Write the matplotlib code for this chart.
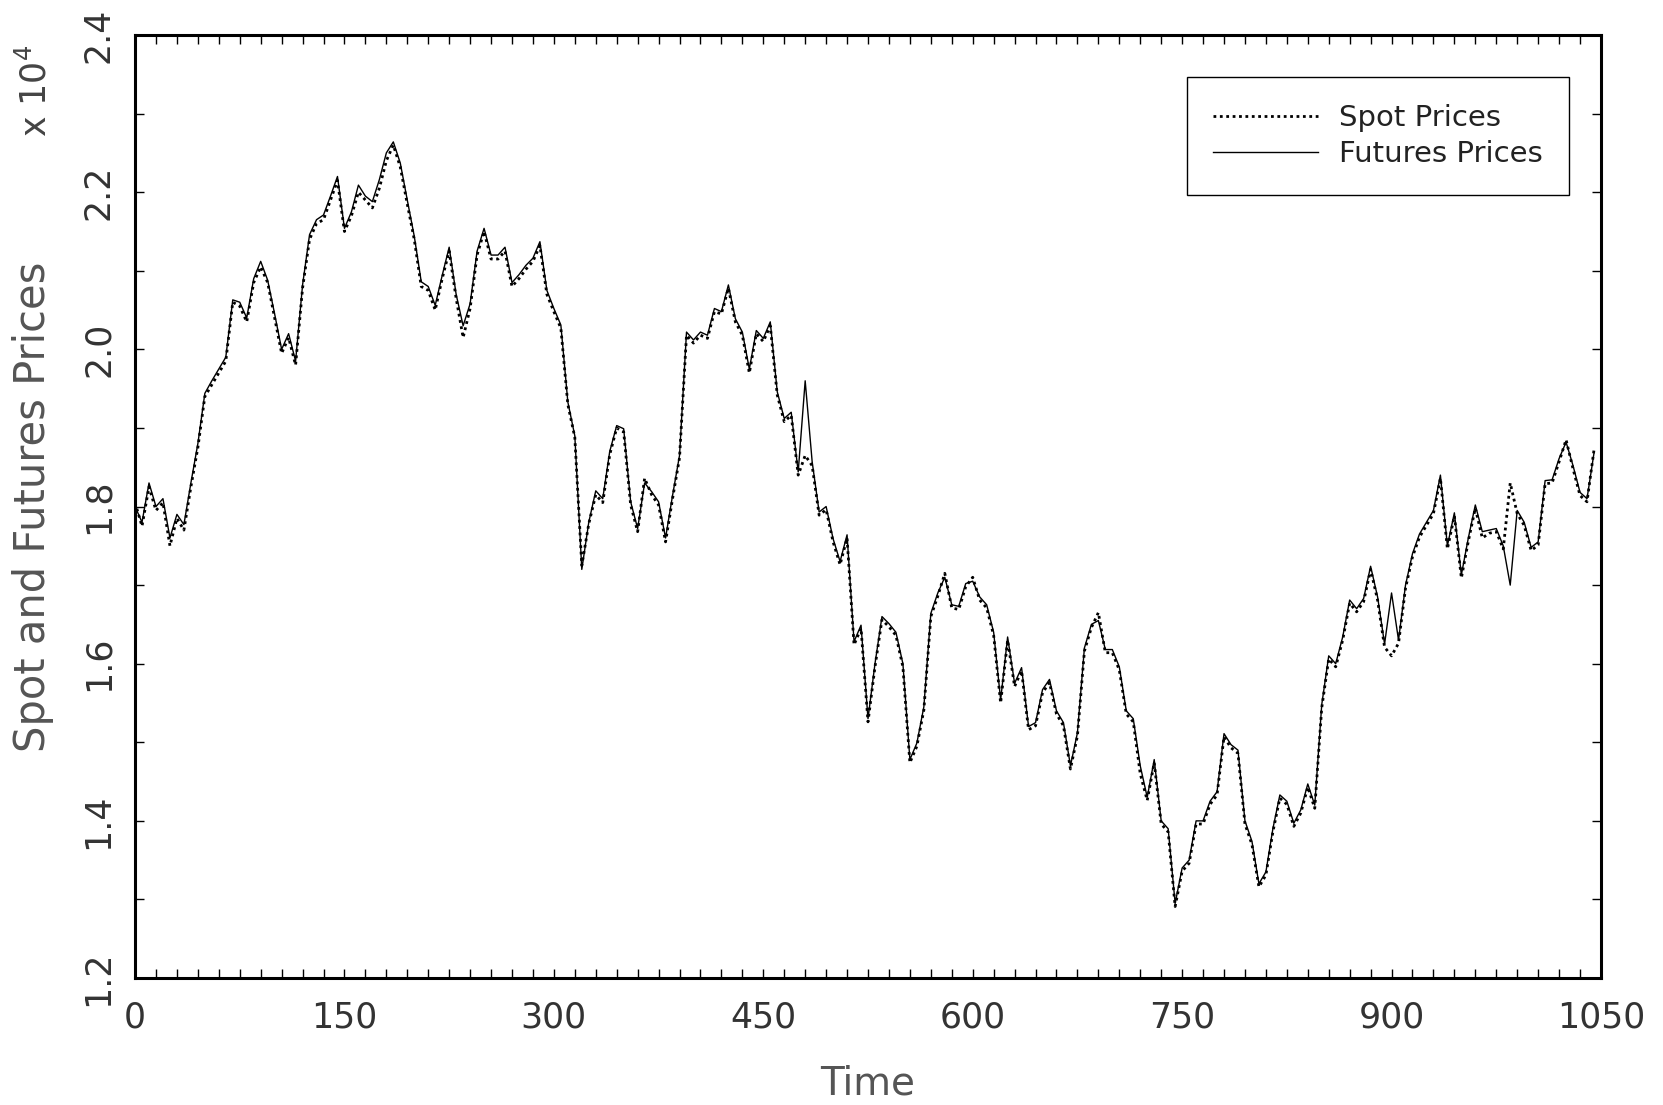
###
###    Spot vs futures prices over time
###

import matplotlib
matplotlib.use('Agg')
import matplotlib.pyplot as plt
from matplotlib.ticker import MultipleLocator


###     Data (prices in units of 10^4, read every 5 time steps)

time = list(range(0, 1050, 5))

futures = [
    1.800, 1.780, 1.830, 1.800, 1.810, 1.760, 1.790, 1.777, 1.830, 1.880,
    1.944, 1.960, 1.975, 1.990, 2.063, 2.060, 2.040, 2.090, 2.112, 2.088,
    2.045, 2.000, 2.020, 1.985, 2.082, 2.146, 2.165, 2.171, 2.195, 2.220,
    2.154, 2.175, 2.209, 2.195, 2.188, 2.216, 2.250, 2.264, 2.237, 2.190,
    2.144, 2.086, 2.080, 2.056, 2.094, 2.130, 2.070, 2.030, 2.058, 2.125,
    2.154, 2.120, 2.120, 2.130, 2.085, 2.095, 2.107, 2.116, 2.137, 2.075,
    2.052, 2.031, 1.933, 1.890, 1.720, 1.780, 1.820, 1.810, 1.870, 1.903,
    1.899, 1.806, 1.772, 1.830, 1.819, 1.806, 1.760, 1.814, 1.865, 2.022,
    2.012, 2.022, 2.018, 2.052, 2.048, 2.082, 2.039, 2.022, 1.975, 2.024,
    2.014, 2.035, 1.946, 1.912, 1.920, 1.844, 1.960, 1.857, 1.793, 1.800,
    1.759, 1.730, 1.764, 1.628, 1.649, 1.530, 1.600, 1.660, 1.651, 1.640,
    1.600, 1.478, 1.499, 1.545, 1.664, 1.690, 1.710, 1.675, 1.673, 1.702,
    1.705, 1.685, 1.675, 1.640, 1.554, 1.634, 1.575, 1.595, 1.520, 1.525,
    1.567, 1.580, 1.540, 1.525, 1.470, 1.512, 1.620, 1.650, 1.655, 1.618,
    1.618, 1.596, 1.540, 1.530, 1.470, 1.430, 1.478, 1.400, 1.390, 1.295,
    1.340, 1.350, 1.400, 1.400, 1.425, 1.437, 1.511, 1.497, 1.490, 1.400,
    1.374, 1.320, 1.335, 1.390, 1.433, 1.425, 1.397, 1.414, 1.447, 1.420,
    1.548, 1.610, 1.600, 1.634, 1.681, 1.670, 1.683, 1.724, 1.685, 1.625,
    1.690, 1.630, 1.700, 1.740, 1.765, 1.780, 1.795, 1.840, 1.750, 1.792,
    1.713, 1.760, 1.802, 1.768, 1.770, 1.772, 1.750, 1.700, 1.795, 1.780,
    1.748, 1.755, 1.833, 1.834, 1.861, 1.882, 1.852, 1.818, 1.810, 1.868,
]

spot = [
    1.805, 1.775, 1.825, 1.795, 1.805, 1.750, 1.785, 1.770, 1.825, 1.875,
    1.940, 1.955, 1.970, 1.985, 2.060, 2.055, 2.035, 2.085, 2.105, 2.085,
    2.040, 1.995, 2.015, 1.980, 2.078, 2.140, 2.160, 2.165, 2.190, 2.215,
    2.150, 2.170, 2.200, 2.190, 2.180, 2.205, 2.240, 2.260, 2.232, 2.185,
    2.140, 2.080, 2.075, 2.050, 2.090, 2.125, 2.065, 2.015, 2.052, 2.120,
    2.150, 2.115, 2.115, 2.125, 2.080, 2.090, 2.102, 2.112, 2.132, 2.070,
    2.048, 2.027, 1.930, 1.888, 1.725, 1.778, 1.815, 1.805, 1.866, 1.900,
    1.895, 1.802, 1.768, 1.836, 1.815, 1.802, 1.755, 1.810, 1.862, 2.018,
    2.008, 2.018, 2.014, 2.048, 2.045, 2.078, 2.035, 2.018, 1.970, 2.020,
    2.010, 2.030, 1.942, 1.908, 1.916, 1.840, 1.865, 1.852, 1.789, 1.796,
    1.755, 1.726, 1.760, 1.624, 1.645, 1.526, 1.596, 1.656, 1.647, 1.636,
    1.596, 1.474, 1.495, 1.541, 1.660, 1.686, 1.715, 1.671, 1.669, 1.698,
    1.710, 1.681, 1.671, 1.636, 1.550, 1.630, 1.571, 1.591, 1.516, 1.521,
    1.563, 1.576, 1.536, 1.521, 1.466, 1.508, 1.616, 1.646, 1.665, 1.614,
    1.614, 1.592, 1.536, 1.526, 1.460, 1.426, 1.474, 1.396, 1.386, 1.291,
    1.336, 1.346, 1.396, 1.396, 1.421, 1.433, 1.507, 1.493, 1.486, 1.396,
    1.370, 1.316, 1.331, 1.386, 1.429, 1.421, 1.393, 1.410, 1.443, 1.416,
    1.544, 1.606, 1.596, 1.630, 1.677, 1.666, 1.679, 1.720, 1.681, 1.621,
    1.610, 1.626, 1.696, 1.736, 1.761, 1.776, 1.791, 1.836, 1.746, 1.788,
    1.709, 1.756, 1.798, 1.760, 1.766, 1.768, 1.746, 1.830, 1.791, 1.776,
    1.744, 1.751, 1.829, 1.830, 1.857, 1.885, 1.848, 1.814, 1.806, 1.872,
]

x_ticks = [0, 150, 300, 450, 600, 750, 900, 1050]
y_ticks = [1.2, 1.4, 1.6, 1.8, 2.0, 2.2, 2.4]


###     Figure

fig = plt.figure(figsize=(16.63, 11.05), dpi=100)
ax = fig.add_axes([0.0812, 0.1149, 0.8815, 0.8534])

ax.plot(time, futures, color='black', linewidth=1.0, label='Futures Prices')
ax.plot(time, spot, color='black', linewidth=2.0, linestyle=(0, (1, 1.3)), label='Spot Prices')

ax.set_xlim(0, 1050)
ax.set_ylim(1.2, 2.4)

ax.set_xticks(x_ticks)
ax.set_yticks(y_ticks)
ax.set_xticklabels([str(t) for t in x_ticks])
ax.set_yticklabels(['%.1f' % v for v in y_ticks], rotation=90, va='center')
ax.xaxis.set_minor_locator(MultipleLocator(15))
ax.yaxis.set_minor_locator(MultipleLocator(0.1))

ax.tick_params(which='both', direction='in', length=6.5, width=1.0,
               top=True, right=True, color='black')
ax.tick_params(axis='x', which='major', labelsize=25, labelcolor='#333333', pad=16)
ax.tick_params(axis='y', which='major', labelsize=25, labelcolor='#333333', pad=14)

for side in ['left', 'right', 'top', 'bottom']:
    ax.spines[side].set_linewidth(2.2)

ax.set_xlabel('Time', fontsize=28, color='#555555', labelpad=22)
ax.set_ylabel('Spot and Futures Prices', fontsize=30, color='#555555', labelpad=20)

# scale factor, drawn like the original (rotated, top-left)
fig.text(0.021, 0.918, r'x 10$^4$', rotation=90, fontsize=25, color='#444444',
         ha='center', va='center')

# legend: spot first, then futures
handles, labels = ax.get_legend_handles_labels()
leg = ax.legend(handles[::-1], labels[::-1], loc='upper right',
                bbox_to_anchor=(0.978, 0.955), borderaxespad=0,
                fontsize=21, handlelength=3.6, handletextpad=0.7,
                labelspacing=0.3, borderpad=0.9, fancybox=False,
                edgecolor='black', framealpha=1)
leg.get_frame().set_linewidth(1.0)
for text in leg.get_texts():
    text.set_color('#222222')

plt.savefig('out.png', dpi=100)
